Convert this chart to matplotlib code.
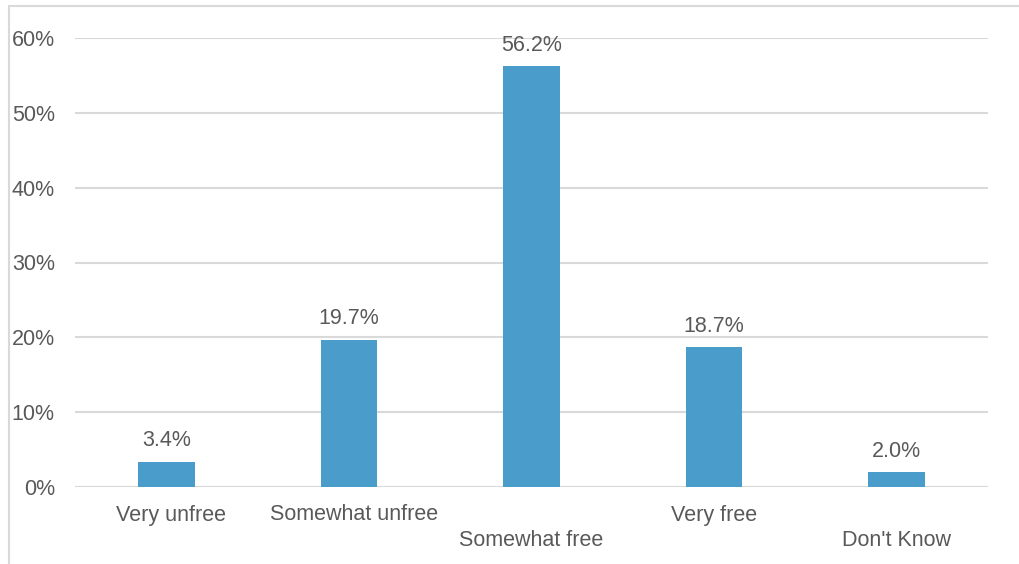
import matplotlib
matplotlib.use("Agg")
import matplotlib.pyplot as plt
import matplotlib.transforms as mtransforms
from matplotlib.patches import Rectangle

categories = ["Very unfree", "Somewhat unfree", "Somewhat free", "Very free", "Don't Know"]
values = [3.4, 19.7, 56.2, 18.7, 2.0]
value_labels = ["3.4%", "19.7%", "56.2%", "18.7%", "2.0%"]
yticks = [0, 10, 20, 30, 40, 50, 60]

plt.rcParams["font.family"] = ["Liberation Sans", "DejaVu Sans"]
text_color = "#595959"
bar_color = "#4a9ccb"
fs = 15.5

fig = plt.figure(figsize=(10.19, 5.64), dpi=100)
ax = fig.add_axes([75 / 1019, 1 - 487 / 564, 913 / 1019, 449 / 564])

x = range(len(categories))
ax.bar(x, values, width=0.31, color=bar_color, zorder=3)

for xi, v, lab in zip(x, values, value_labels):
    ax.annotate(lab, (xi, v), xytext=(0, 7.5), textcoords="offset points",
                ha="center", va="bottom", fontsize=fs, color=text_color)

ax.set_xlim(-0.5, len(categories) - 0.5)
ax.set_ylim(0, 60)
ax.set_yticks(yticks)
ax.set_yticklabels([f"{t}%" for t in yticks], fontsize=fs, color=text_color)
ax.yaxis.grid(True, color="#d9d9d9", linewidth=1.5, zorder=0)
ax.tick_params(axis="y", length=0, pad=14.5)
ax.tick_params(axis="x", length=0)
ax.set_xticks([])
for s in ax.spines.values():
    s.set_visible(False)
ax.axhline(0, color="#d9d9d9", linewidth=1.5, zorder=2)

# staggered category labels (offsets in pixels)
trans = mtransforms.blended_transform_factory(ax.transData, ax.transAxes)
row_offsets = [-28, -28, -53, -28, -53]
x_shift = [5, 5, 0, 0, 0]
for i, cat in enumerate(categories):
    ax.annotate(cat, (i, 0), xycoords=trans,
                xytext=(x_shift[i] * 0.72, row_offsets[i] * 0.72),
                textcoords="offset points", ha="center", va="center",
                fontsize=fs, color=text_color)

# outer chart border
fig.patches.append(Rectangle((9 / 1019, -0.1), 1.2, 1 - 6 / 564 + 0.1,
                             transform=fig.transFigure, fill=False,
                             edgecolor="#d9d9d9", linewidth=1.5))

fig.savefig("out.png", dpi=100)
plt.close()
